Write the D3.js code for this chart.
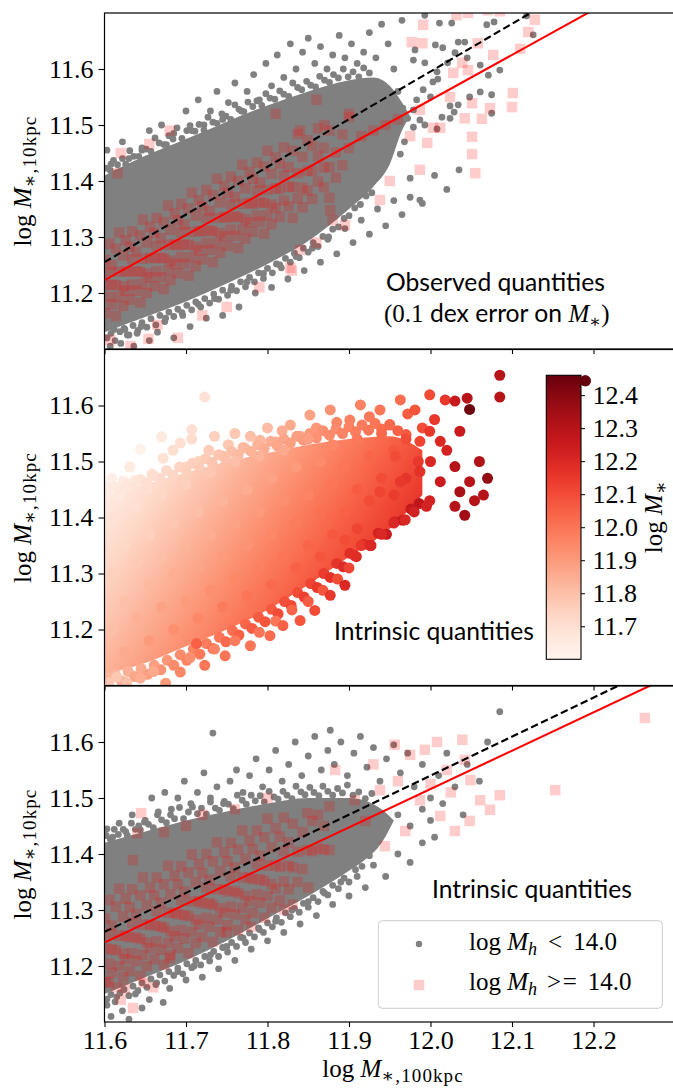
<!DOCTYPE html>
<html><head><meta charset="utf-8">
<script src="https://cdn.jsdelivr.net/npm/d3@7"></script>
<style>body{margin:0;background:#fff}svg{display:block}</style>
</head><body>
<script>
// ---------------- DATA ----------------
const xTicks=[11.6,11.7,11.8,11.9,12.0,12.1,12.2];
const yTicks=[11.2,11.3,11.4,11.5,11.6];
const cbTicks=[11.7,11.8,11.9,12.0,12.1,12.2,12.3,12.4];
const xDomain=[11.6,12.3], yDomain=[11.1,11.7], cbDomain=[11.6,12.46];
const fitX=[11.6,12.3];
const topFitRed=[11.223,11.786], topFitBlack=[11.255,11.851];
const botFitRed=[11.242,11.7215], botFitBlack=[11.261,11.749];
const panelTexts=[["Observed quantities"," dex error on "],["Intrinsic quantities"],["Intrinsic quantities"]];

// dense cores (solid region of overlapping markers)
const topCoreX=[11.6,11.65,11.7,11.75,11.8,11.85,11.9,11.93,11.95,11.965,11.975];
const topCoreHi=[11.41,11.445,11.475,11.506,11.535,11.56,11.58,11.585,11.57,11.54,11.515];
const topCoreLo=[11.13,11.157,11.185,11.217,11.252,11.293,11.35,11.39,11.43,11.49,11.515];
const midCoreX=[11.6,11.65,11.7,11.75,11.8,11.85,11.9,11.95,11.99];
const midCoreHi=[11.44,11.46,11.48,11.5,11.515,11.53,11.54,11.545,11.52];
const midCoreLo=[11.12,11.14,11.17,11.2,11.235,11.28,11.33,11.38,11.44];
const midCoreGradFrom=[11.6,11.5,11.61], midCoreGradTo=[11.918,11.189,12.21];
const botCoreX=[11.6,11.65,11.7,11.75,11.8,11.85,11.9,11.92,11.94,11.955];
const botCoreHi=[11.42,11.44,11.46,11.476,11.49,11.5,11.5,11.495,11.48,11.46];
const botCoreLo=[11.15,11.18,11.21,11.245,11.285,11.325,11.37,11.39,11.42,11.46];

const topDots=[[11.603,11.455],[11.608,11.43],[11.615,11.415],[11.622,11.47],[11.63,11.44],[11.638,11.425],[11.646,11.455],[11.655,11.49],[11.662,11.44],[11.67,11.5],[11.676,11.465],[11.685,11.485],[11.692,11.45],[11.7,11.525],[11.707,11.49],[11.715,11.545],[11.722,11.5],[11.73,11.525],[11.738,11.56],[11.745,11.51],[11.752,11.54],[11.76,11.575],[11.768,11.525],[11.775,11.56],[11.783,11.59],[11.79,11.545],[11.798,11.61],[11.805,11.57],[11.812,11.625],[11.82,11.585],[11.828,11.645],[11.835,11.6],[11.843,11.63],[11.85,11.655],[11.858,11.61],[11.865,11.64],[11.873,11.6],[11.88,11.625],[11.888,11.66],[11.895,11.62],[11.903,11.645],[11.91,11.61],[11.918,11.63],[11.925,11.665],[11.933,11.62],[11.94,11.68],[11.948,11.645],[11.955,11.6],
[11.965,11.687],[11.993,11.696],[12.011,11.682],[12.026,11.682],[12.069,11.679],[12.078,11.684],[12.118,11.695],[12.126,11.661],[12.034,11.648],[12.042,11.648],[12.061,11.607],[12.071,11.589],[12.085,11.598],[12.075,11.554],[12.061,11.559],[12.048,11.55],[12.034,11.536],[12.024,11.534],[12.014,11.514],[12.024,11.512],[12.029,11.523],[12.075,11.521],[12.006,11.643],[12.015,11.638],[12.045,11.62],[12.03,11.629],[12.021,11.611],[12.008,11.595],[12.003,11.577],[12.009,11.582],[11.993,11.611],[11.981,11.634],[11.979,11.616],[11.991,11.563],[12.0,11.55],[11.983,11.545],[11.979,11.527],[11.987,11.509],[11.972,11.512],[11.979,11.496],[11.993,11.5],[12.008,11.493],[11.963,11.448],[11.975,11.405],[11.975,11.371],[11.987,11.366],[11.968,11.47],[11.96,11.56],[11.966,11.53],
[11.603,11.12],[11.607,11.105],[11.612,11.135],[11.62,11.11],[11.628,11.125],[11.636,11.105],[11.645,11.14],[11.655,11.115],[11.665,11.13],[11.675,11.155],[11.685,11.12],[11.695,11.165],[11.705,11.14],[11.715,11.18],[11.725,11.155],[11.735,11.19],[11.745,11.16],[11.755,11.205],[11.765,11.175],[11.775,11.22],[11.785,11.2],[11.795,11.235],[11.805,11.21],[11.815,11.25],[11.825,11.225],[11.835,11.265],[11.845,11.24],[11.855,11.28],[11.865,11.255],[11.875,11.3],[11.885,11.27],[11.895,11.315],[11.905,11.29],[11.915,11.33],[11.925,11.305],[11.935,11.35],[11.945,11.32],[11.955,11.365],[11.965,11.34],[11.99,11.36],[12.005,11.41],[12.02,11.385],[12.035,11.42],[11.61,11.145],[11.625,11.135],[11.64,11.128]];
const topEdgeDots=[[11.602,11.423],[11.607,11.419],[11.611,11.437],[11.616,11.429],[11.622,11.44],[11.626,11.43],[11.631,11.454],[11.636,11.444],[11.642,11.444],[11.646,11.459],[11.651,11.457],[11.657,11.453],[11.662,11.477],[11.667,11.468],[11.673,11.465],[11.679,11.481],[11.684,11.475],[11.689,11.495],[11.695,11.476],[11.701,11.49],[11.705,11.499],[11.711,11.489],[11.716,11.501],[11.722,11.491],[11.727,11.514],[11.733,11.505],[11.738,11.503],[11.744,11.52],[11.749,11.516],[11.755,11.51],[11.76,11.536],[11.765,11.528],[11.771,11.524],[11.776,11.541],[11.782,11.533],[11.787,11.543],[11.793,11.535],[11.798,11.556],[11.803,11.548],[11.809,11.546],[11.815,11.561],[11.82,11.555],[11.826,11.551],[11.831,11.575],[11.837,11.567],[11.842,11.563],[11.848,11.578],[11.853,11.571],[11.859,11.568],[11.864,11.587],[11.87,11.58],[11.876,11.576],[11.881,11.59],[11.887,11.584],[11.893,11.6],[11.899,11.586],[11.905,11.595],[11.912,11.586],[11.918,11.602],[11.925,11.593],
[11.603,11.12],[11.608,11.128],[11.613,11.115],[11.619,11.131],[11.624,11.137],[11.63,11.125],[11.635,11.142],[11.641,11.133],[11.646,11.147],[11.652,11.139],[11.657,11.154],[11.663,11.143],[11.668,11.16],[11.674,11.149],[11.679,11.166],[11.685,11.158],[11.69,11.171],[11.696,11.16],[11.701,11.178],[11.707,11.17],[11.712,11.184],[11.718,11.175],[11.723,11.19],[11.729,11.182],[11.734,11.198],[11.74,11.189],[11.745,11.205],[11.751,11.196],[11.756,11.212],[11.762,11.204],[11.767,11.22],[11.773,11.211],[11.778,11.228],[11.784,11.22],[11.789,11.236],[11.795,11.226],[11.8,11.244],[11.806,11.236],[11.811,11.252],[11.817,11.245],[11.822,11.262],[11.828,11.255],[11.833,11.271],[11.839,11.263],[11.844,11.28],[11.85,11.273],[11.856,11.29],[11.862,11.283],[11.868,11.301],[11.874,11.296],[11.88,11.314],[11.887,11.318],[11.894,11.333],[11.9,11.338],[11.907,11.352],[11.914,11.358],[11.921,11.373],[11.928,11.379]];

// red squares: dense band rows [x, y, y, y] and scattered ones
const topBand=[[11.601,11.164,11.214,11.259],[11.606,11.193,11.238,11.288],[11.609,11.18,11.25,11.215],[11.614,11.214,11.279,11.159],[11.618,11.238,11.193,11.308],[11.623,11.267,11.212,11.177],[11.626,11.239,11.294,11.204],[11.631,11.188,11.238,11.283],[11.634,11.215,11.26,11.31],[11.639,11.204,11.274,11.239],[11.644,11.238,11.303,11.183],[11.647,11.261,11.216,11.331],[11.652,11.29,11.235,11.2],[11.656,11.263,11.318,11.228],[11.661,11.212,11.262,11.307],[11.664,11.239,11.284,11.334],[11.669,11.228,11.298,11.263],[11.673,11.262,11.327,11.207],[11.678,11.286,11.241,11.356],[11.681,11.313,11.258,11.223],[11.686,11.287,11.342,11.252],[11.69,11.235,11.285,11.33],[11.694,11.264,11.309,11.359],[11.698,11.252,11.322,11.287],[11.703,11.286,11.351,11.231],[11.707,11.309,11.264,11.379],[11.712,11.338,11.283,11.248],[11.716,11.311,11.366,11.276],[11.72,11.26,11.31,11.355],[11.725,11.289,11.334,11.384],[11.729,11.277,11.347,11.312],[11.733,11.31,11.375,11.255],[11.738,11.334,11.289,11.404],[11.742,11.362,11.307,11.272],[11.747,11.336,11.391,11.301],[11.751,11.284,11.334,11.379],[11.755,11.313,11.358,11.408],[11.76,11.302,11.372,11.337],[11.764,11.335,11.4,11.28],[11.769,11.359,11.314,11.429],[11.773,11.387,11.332,11.297],[11.778,11.361,11.416,11.326],[11.782,11.309,11.359,11.404],[11.787,11.338,11.383,11.433],[11.791,11.327,11.397,11.362],[11.796,11.361,11.426,11.306],[11.8,11.384,11.339,11.454],[11.805,11.413,11.358,11.323],[11.81,11.387,11.442,11.352],[11.815,11.336,11.386,11.431],[11.82,11.365,11.41,11.46],[11.826,11.355,11.425,11.39],[11.831,11.389,11.454,11.334],[11.837,11.414,11.369,11.484],[11.843,11.443,11.388,11.353],[11.849,11.418,11.473,11.383],[11.855,11.368,11.418,11.463],[11.862,11.399,11.444,11.494],[11.869,11.389,11.459,11.424],[11.876,11.425,11.49,11.37],[11.884,11.451,11.406],[11.892,11.483,11.428],[11.9,11.459,11.514]];
const topSquares=[[11.607,11.116],[11.632,11.105],[11.654,11.118],[11.665,11.143],[11.69,11.12],[11.72,11.16],[11.75,11.175],[11.79,11.21],[11.83,11.24],[11.86,11.29],[11.88,11.33],[11.616,11.414],[11.62,11.45],[11.655,11.466],[11.68,11.49],[11.81,11.52],[11.86,11.545],[11.87,11.5],[11.84,11.49],[11.9,11.52],[11.84,11.277],[11.828,11.245],[11.877,11.348],[11.895,11.321],[11.938,11.366],[11.95,11.4],[11.915,11.48],[11.93,11.49],[11.945,11.5],[11.96,11.51],
[11.991,11.679],[12.032,11.696],[12.046,11.7],[12.128,11.688],[12.12,11.666],[12.11,11.636],[12.077,11.625],[12.058,11.646],[12.028,11.593],[12.039,11.611],[12.046,11.598],[12.024,11.55],[12.051,11.539],[12.073,11.53],[12.1,11.532],[12.101,11.557],[12.042,11.512],[12.063,11.511],[12.051,11.479],[12.051,11.448],[12.055,11.414],[11.987,11.42],[11.996,11.468],[11.975,11.48],[12.003,11.495],[12.012,11.495],[11.987,11.527],[11.977,11.648],[11.99,11.646],[12.07,11.705],[12.085,11.703]];

// middle panel: [log M*,100kpc, log M*,10kpc, log M*]
const midPts=[[11.603,11.455,11.64],[11.609,11.47,11.63],[11.618,11.44,11.66],[11.623,11.465,11.65],[11.631,11.49,11.65],[11.637,11.466,11.66],[11.644,11.522,11.62],[11.652,11.45,11.7],[11.658,11.478,11.68],[11.67,11.544,11.66],[11.672,11.506,11.69],[11.684,11.52,11.7],[11.693,11.533,11.7],[11.7,11.49,11.74],[11.707,11.557,11.7],[11.707,11.54,11.71],[11.715,11.5,11.75],[11.723,11.615,11.69],[11.728,11.52,11.76],[11.735,11.545,11.75],[11.745,11.51,11.79],[11.752,11.53,11.78],[11.76,11.55,11.78],[11.77,11.525,11.81],[11.779,11.545,11.8],[11.791,11.538,11.82],[11.8,11.56,11.81],[11.81,11.535,11.85],[11.818,11.555,11.85],[11.828,11.565,11.86],[11.84,11.545,11.89],[11.852,11.583,11.88],[11.86,11.56,11.91],[11.877,11.592,11.92],[11.885,11.57,11.95],[11.901,11.574,11.97],[11.914,11.601,11.96],[11.925,11.58,11.99],[11.938,11.592,12.0],[11.95,11.565,12.04],[11.963,11.61,12.02],[11.972,11.585,12.06],[11.981,11.592,12.08],[11.999,11.619,12.1],[12.018,11.61,12.15],[11.99,11.56,12.1],[12.005,11.575,12.15],
[11.604,11.45,11.645],[11.612,11.455,11.653],[11.62,11.448,11.667],[11.628,11.46,11.67],[11.636,11.455,11.684],[11.644,11.468,11.686],[11.652,11.462,11.7],[11.66,11.475,11.703],[11.668,11.47,11.716],[11.676,11.484,11.719],[11.684,11.476,11.733],[11.692,11.49,11.736],[11.7,11.485,11.749],[11.708,11.497,11.752],[11.716,11.49,11.767],[11.724,11.505,11.768],[11.732,11.498,11.783],[11.74,11.512,11.785],[11.748,11.505,11.799],[11.756,11.518,11.802],[11.764,11.512,11.816],[11.772,11.524,11.819],[11.78,11.518,11.833],[11.788,11.53,11.836],[11.796,11.523,11.851],[11.804,11.536,11.854],[11.812,11.528,11.869],[11.82,11.54,11.872],[11.828,11.533,11.886],[11.836,11.545,11.89],[11.844,11.538,11.904],[11.852,11.55,11.908],[11.86,11.542,11.923],[11.868,11.555,11.925],[11.876,11.547,11.941],[11.884,11.558,11.944],[11.892,11.55,11.96],[11.9,11.562,11.963],[11.908,11.553,11.978],[11.916,11.565,11.98],[11.924,11.556,11.996],[11.932,11.568,11.998],[11.94,11.558,12.017],[11.95,11.566,12.026],[11.96,11.555,12.05],[11.97,11.548,12.062],
[11.61,11.4,11.69],[11.61,11.3,11.75],[11.61,11.2,11.8],[11.625,11.35,11.73],[11.625,11.25,11.8],[11.625,11.16,11.86],[11.64,11.42,11.7],[11.64,11.32,11.77],[11.64,11.22,11.84],[11.655,11.37,11.75],[11.655,11.28,11.82],[11.655,11.18,11.9],[11.67,11.44,11.73],[11.67,11.33,11.8],[11.67,11.24,11.88],[11.685,11.39,11.78],[11.685,11.3,11.85],[11.685,11.2,11.93],[11.7,11.46,11.75],[11.7,11.35,11.83],[11.7,11.25,11.9],[11.715,11.41,11.8],[11.715,11.31,11.87],[11.715,11.22,11.95],[11.73,11.48,11.78],[11.73,11.37,11.85],[11.73,11.27,11.93],[11.745,11.43,11.83],[11.745,11.33,11.9],[11.745,11.24,11.98],[11.76,11.5,11.8],[11.76,11.39,11.88],[11.76,11.29,11.95],[11.775,11.45,11.85],[11.775,11.35,11.92],[11.775,11.26,12.0],[11.79,11.51,11.83],[11.79,11.41,11.9],[11.79,11.31,11.97],[11.805,11.47,11.88],[11.805,11.37,11.95],[11.805,11.28,12.03],[11.82,11.52,11.86],[11.82,11.43,11.93],[11.82,11.33,12.0],[11.835,11.49,11.9],[11.835,11.39,11.98],[11.835,11.31,12.05],[11.85,11.54,11.89],[11.85,11.44,11.96],[11.85,11.35,12.04],[11.865,11.5,11.94],[11.865,11.41,12.01],[11.865,11.33,12.08],[11.88,11.53,11.95],[11.88,11.46,12.0],[11.88,11.37,12.07],[11.895,11.49,12.0],[11.895,11.41,12.05],[11.895,11.36,12.1],[11.91,11.54,11.99],[11.91,11.45,12.06],[11.91,11.38,12.12],[11.925,11.51,12.04],[11.925,11.43,12.1],[11.94,11.55,12.03],[11.94,11.47,12.1],[11.955,11.52,12.08],[11.955,11.44,12.14],[11.97,11.54,12.1],[11.97,11.47,12.16],[11.985,11.5,12.15],
[11.605,11.112,11.83],[11.613,11.12,11.83],[11.621,11.108,11.85],[11.629,11.125,11.84],[11.637,11.116,11.87],[11.645,11.13,11.86],[11.653,11.12,11.89],[11.661,11.136,11.89],[11.669,11.128,11.92],[11.677,11.145,11.91],[11.685,11.136,11.94],[11.693,11.155,11.94],[11.701,11.145,11.96],[11.709,11.165,11.96],[11.717,11.156,11.99],[11.725,11.175,11.98],[11.733,11.166,12.01],[11.741,11.186,12.0],[11.749,11.178,12.03],[11.757,11.198,12.02],[11.765,11.19,12.05],[11.773,11.21,12.04],[11.781,11.202,12.06],[11.789,11.222,12.06],[11.797,11.214,12.08],[11.805,11.236,12.07],[11.813,11.228,12.1],[11.821,11.25,12.09],[11.829,11.243,12.11],[11.837,11.266,12.1],[11.845,11.258,12.13],[11.853,11.282,12.12],[11.861,11.275,12.15],[11.869,11.3,12.14],[11.877,11.293,12.17],[11.885,11.318,12.16],[11.893,11.312,12.19],[11.901,11.336,12.18],[11.909,11.33,12.2],[11.918,11.352,12.2],[11.927,11.35,12.22],[11.936,11.372,12.22],[11.946,11.37,12.25],[11.956,11.392,12.24],[11.966,11.395,12.26],[11.976,11.415,12.26],[11.986,11.425,12.28],
[11.605,11.105,11.78],[11.615,11.115,11.78],[11.627,11.105,11.8],[11.644,11.113,11.85],[11.66,11.125,11.86],[11.675,11.104,11.9],[11.693,11.124,11.95],[11.705,11.15,11.93],[11.713,11.175,12.05],[11.723,11.136,12.0],[11.735,11.165,11.96],[11.748,11.153,12.0],[11.76,11.18,11.98],[11.779,11.171,12.0],[11.79,11.195,12.0],[11.803,11.189,12.02],[11.81,11.215,12.0],[11.819,11.207,12.05],[11.83,11.235,12.04],[11.84,11.216,12.08],[11.85,11.25,12.06],[11.858,11.234,12.1],[11.868,11.27,12.08],[11.877,11.261,12.15],[11.886,11.29,12.1],[11.895,11.279,12.2],[11.9,11.31,12.12],[11.907,11.332,12.18],[11.915,11.35,12.15],[11.926,11.35,12.2],[11.94,11.37,12.2],[11.955,11.39,12.2],[11.969,11.396,12.2],[11.98,11.41,12.22],[11.995,11.42,12.22],
[11.999,11.554,12.15],[11.987,11.536,12.12],[12.012,11.536,12.2],[12.036,11.554,12.25],[12.03,11.608,12.25],[12.03,11.491,12.3],[12.048,11.464,12.3],[12.036,11.446,12.33],[12.054,11.43,12.3],[12.012,11.464,12.25],[12.042,11.404,12.35],[12.03,11.42,12.3],[11.999,11.43,12.22],[11.987,11.482,12.17],[11.957,11.509,12.1],[11.963,11.464,12.15],[11.938,11.446,12.12],[12.02,11.52,12.22],[12.06,11.5,12.32],[12.07,11.47,12.38],[12.065,11.44,12.3],[12.0,11.5,12.2],[12.048,11.593,12.45],[12.045,11.613,12.3],[12.085,11.654,12.3],[12.085,11.615,12.3],[12.19,11.644,12.46]];

const botDots=[[11.603,11.445],[11.61,11.43],[11.618,11.455],[11.626,11.44],[11.634,11.47],[11.642,11.45],[11.65,11.46],[11.658,11.5],[11.666,11.475],[11.674,11.51],[11.682,11.48],[11.69,11.5],[11.698,11.53],[11.706,11.49],[11.714,11.51],[11.722,11.545],[11.733,11.616],[11.73,11.5],[11.738,11.52],[11.746,11.49],[11.754,11.53],[11.762,11.55],[11.77,11.51],[11.778,11.54],[11.786,11.57],[11.794,11.52],[11.802,11.55],[11.81,11.585],[11.818,11.53],[11.826,11.56],[11.834,11.6],[11.842,11.54],[11.85,11.575],[11.858,11.61],[11.866,11.55],[11.874,11.585],[11.877,11.621],[11.882,11.56],[11.89,11.6],[11.898,11.54],[11.906,11.58],[11.914,11.61],[11.922,11.555],[11.93,11.59],[11.938,11.53],[11.946,11.57],[11.955,11.595],[11.963,11.545],[11.972,11.58],[11.98,11.52],[11.99,11.56],[12.0,11.5],[12.01,11.54],[12.02,11.58],[12.03,11.52],[12.045,11.56],[12.06,11.53],[12.085,11.654],[12.07,11.6],[11.96,11.47],[11.975,11.45],[11.99,11.48],[12.0,11.46],[12.015,11.49],[12.04,11.47],
[11.603,11.13],[11.608,11.11],[11.615,11.145],[11.622,11.12],[11.63,11.105],[11.638,11.15],[11.646,11.125],[11.655,11.14],[11.664,11.17],[11.672,11.135],[11.68,11.16],[11.69,11.19],[11.7,11.175],[11.71,11.2],[11.72,11.18],[11.73,11.22],[11.74,11.195],[11.75,11.235],[11.76,11.21],[11.77,11.25],[11.78,11.23],[11.79,11.265],[11.8,11.245],[11.81,11.28],[11.82,11.26],[11.83,11.3],[11.84,11.275],[11.85,11.315],[11.86,11.29],[11.87,11.33],[11.88,11.31],[11.89,11.35],[11.9,11.325],[11.91,11.36],[11.92,11.34],[11.93,11.38],[11.945,11.36],[11.96,11.4],[11.975,11.385],[11.99,11.42],[12.005,11.43]];
const botEdgeDots=[[11.602,11.433],[11.607,11.427],[11.612,11.444],[11.617,11.435],[11.623,11.444],[11.628,11.433],[11.633,11.455],[11.638,11.444],[11.644,11.443],[11.649,11.457],[11.654,11.453],[11.66,11.447],[11.665,11.47],[11.67,11.461],[11.676,11.456],[11.681,11.47],[11.686,11.463],[11.692,11.483],[11.697,11.463],[11.703,11.475],[11.708,11.484],[11.714,11.472],[11.719,11.482],[11.725,11.471],[11.73,11.493],[11.736,11.482],[11.741,11.478],[11.747,11.494],[11.752,11.489],[11.758,11.481],[11.763,11.505],[11.769,11.496],[11.774,11.489],[11.78,11.505],[11.785,11.495],[11.791,11.504],[11.796,11.493],[11.802,11.512],[11.808,11.502],[11.813,11.498],[11.819,11.512],[11.824,11.505],[11.83,11.499],[11.835,11.521],[11.841,11.511],[11.846,11.506],[11.852,11.519],[11.857,11.51],[11.863,11.504],[11.868,11.521],[11.874,11.512],[11.88,11.505],[11.886,11.517],[11.892,11.509],[11.898,11.523],[11.905,11.505],[11.912,11.511],[11.92,11.499],[11.928,11.508],
[11.603,11.141],[11.608,11.149],[11.613,11.136],[11.619,11.152],[11.624,11.158],[11.63,11.147],[11.635,11.164],[11.641,11.156],[11.646,11.17],[11.652,11.162],[11.657,11.177],[11.663,11.167],[11.668,11.184],[11.674,11.173],[11.679,11.19],[11.685,11.183],[11.69,11.196],[11.696,11.186],[11.701,11.204],[11.707,11.197],[11.712,11.21],[11.718,11.202],[11.723,11.217],[11.729,11.209],[11.734,11.226],[11.74,11.217],[11.745,11.233],[11.751,11.225],[11.756,11.242],[11.762,11.235],[11.767,11.251],[11.773,11.242],[11.778,11.259],[11.784,11.252],[11.789,11.268],[11.795,11.26],[11.8,11.277],[11.806,11.27],[11.811,11.286],[11.817,11.278],[11.822,11.295],[11.828,11.288],[11.833,11.303],[11.839,11.296],[11.844,11.312],[11.85,11.305],[11.856,11.322],[11.862,11.315],[11.868,11.333],[11.874,11.327],[11.88,11.344],[11.887,11.338],[11.894,11.357],[11.9,11.35],[11.908,11.372],[11.916,11.378],[11.925,11.397]];

const botBand=[[11.601,11.171,11.231,11.285],[11.606,11.204,11.258,11.318],[11.609,11.188,11.272,11.23],[11.614,11.228,11.306,11.162],[11.618,11.254,11.2,11.338],[11.623,11.288,11.222,11.18],[11.626,11.254,11.32,11.212],[11.631,11.191,11.251,11.305],[11.634,11.223,11.277,11.337],[11.639,11.209,11.293,11.251],[11.644,11.248,11.326,11.182],[11.647,11.274,11.22,11.358],[11.652,11.308,11.242,11.2],[11.656,11.274,11.34,11.232],[11.661,11.212,11.272,11.326],[11.664,11.244,11.298,11.358],[11.669,11.229,11.313,11.271],[11.673,11.268,11.346,11.202],[11.678,11.295,11.241,11.379],[11.681,11.328,11.262,11.22],[11.686,11.295,11.361,11.253],[11.69,11.232,11.292,11.346],[11.694,11.264,11.318,11.378],[11.698,11.249,11.333,11.291],[11.703,11.289,11.367,11.223],[11.707,11.315,11.261,11.399],[11.712,11.349,11.283,11.241],[11.716,11.316,11.382,11.274],[11.72,11.252,11.312,11.366],[11.725,11.286,11.34,11.4],[11.729,11.27,11.354,11.312],[11.733,11.309,11.387,11.243],[11.738,11.337,11.283,11.421],[11.742,11.369,11.303,11.261],[11.747,11.337,11.403,11.295],[11.751,11.273,11.333,11.387],[11.755,11.306,11.36,11.42],[11.76,11.292,11.376,11.334],[11.764,11.33,11.408,11.264],[11.769,11.358,11.304,11.442],[11.773,11.391,11.325,11.283],[11.778,11.358,11.424,11.316],[11.782,11.295,11.355,11.409],[11.787,11.328,11.382,11.442],[11.791,11.313,11.397,11.355],[11.796,11.352,11.43,11.286],[11.8,11.379,11.325,11.463],[11.805,11.412,11.346,11.304],[11.81,11.38,11.446,11.338],[11.815,11.317,11.377,11.431],[11.82,11.351,11.405,11.465],[11.826,11.337,11.421,11.379],[11.831,11.376,11.454,11.31],[11.837,11.404,11.35],[11.843,11.439,11.373],[11.849,11.407,11.473],[11.855,11.405,11.459],[11.862,11.41,11.47],[11.869,11.45,11.408],[11.876,11.407,11.485]];
const botSquares=[[11.605,11.171],[11.62,11.14],[11.635,11.125],[11.625,11.16],[11.648,11.17],[11.66,11.162],[11.68,11.214],[11.645,11.473],[11.64,11.437],[11.635,11.389],[11.673,11.439],[11.7,11.45],[11.72,11.47],[11.76,11.48],[11.8,11.5],[11.82,11.3],[11.85,11.34],[11.75,11.26],[11.78,11.27],
[11.883,11.55],[11.907,11.496],[11.92,11.459],[11.938,11.514],[11.944,11.414],[11.956,11.595],[11.969,11.441],[11.975,11.577],[11.987,11.496],[11.993,11.586],[12.008,11.6],[12.012,11.468],[12.02,11.55],[12.03,11.441],[12.039,11.604],[12.042,11.568],[12.048,11.459],[12.049,11.532],[12.061,11.496],[12.073,11.479],[12.085,11.505],[12.153,11.514],[12.263,11.643],[11.93,11.56],[11.96,11.53],[12.0,11.525],[12.025,11.51]];

// ---------------- LAYOUT ----------------
const W=673,H=1091, X0=104.5, X1=675, PH=336, PT=[13,349.5,686];
const SERIF="'Liberation Serif','DejaVu Serif',serif", SANS="Lato,'DejaVu Sans',sans-serif";
const GRAY="#808080", FS=25, TFS=26;
const svg=d3.select("body").append("svg").attr("width",W).attr("height",H);
const defs=svg.append("defs");
const x=d3.scaleLinear().domain(xDomain).range([X0,X1]);
const cScale=d3.scaleSequential(d3.interpolateReds).domain(cbDomain);
const bandPairs=rows=>rows.flatMap(r=>r.slice(1).map(v=>[r[0],v]));

function yFor(i){return d3.scaleLinear().domain(yDomain).range([PT[i]+PH,PT[i]]);}
function core(g,y,cx,lo,hi,fill){
  const a=d3.area().x(d=>x(d[0])).y0(d=>y(d[1])).y1(d=>y(d[2])).curve(d3.curveMonotoneX);
  g.append("path").datum(d3.zip(cx,lo,hi)).attr("d",a).attr("fill",fill);
}
function dots(g,y,data){
  g.selectAll(null).data(data).join("circle").attr("cx",d=>x(d[0])).attr("cy",d=>y(d[1])).attr("r",3.4).attr("fill",GRAY);
}
function squares(g,y,data){
  const s=10.5;
  g.selectAll(null).data(data).join("rect").attr("x",d=>x(d[0])-s/2).attr("y",d=>y(d[1])-s/2)
   .attr("width",s).attr("height",s).attr("fill","#ff0000").attr("fill-opacity",0.2);
}
function fitLine(g,y,ys,color,dash){
  const l=d3.line().x(d=>x(d[0])).y(d=>y(d[1]));
  const p=g.append("path").datum(d3.zip(fitX,ys)).attr("d",l).attr("fill","none").attr("stroke",color).attr("stroke-width",2.1);
  if(dash)p.attr("stroke-dasharray","7.5,3.5");
}
function serifText(sel,fs){fs=fs||FS;return sel.attr("font-family",SERIF).attr("font-size",fs).style("font-family",SERIF).style("font-size",fs+"px").attr("fill","#000");}
function massLabel(t,sub){
  t.append("tspan").text("log ");
  t.append("tspan").style("font-style","italic").text("M");
  t.append("tspan").attr("dy",5).style("font-size","19px").style("letter-spacing","1.1px").text(sub);
}
function axes(i){
  const y=yFor(i);
  const ga=svg.append("g").attr("transform",`translate(${X0},0)`)
    .call(d3.axisLeft(y).tickValues(yTicks).tickFormat(d3.format(".1f")).tickSize(6).tickPadding(5));
  ga.select(".domain").remove();
  serifText(ga,TFS); serifText(ga.selectAll("text"),TFS);
  ga.selectAll("line").attr("stroke","#000").attr("stroke-width",1.1);
  const gb=svg.append("g").attr("transform",`translate(0,${PT[i]+PH})`)
    .call(d3.axisBottom(x).tickValues(xTicks).tickFormat(i==2?d3.format(".1f"):()=>"").tickSize(5).tickPadding(4));
  gb.select(".domain").remove();
  serifText(gb,TFS); serifText(gb.selectAll("text"),TFS);
  gb.selectAll("line").attr("stroke","#000").attr("stroke-width",1.1);
  svg.append("rect").attr("x",X0).attr("y",PT[i]).attr("width",X1-X0).attr("height",PH)
    .attr("fill","none").attr("stroke","#000").attr("stroke-width",1.2);
  const t=serifText(svg.append("text").attr("transform",`translate(31,${PT[i]+PH/2}) rotate(-90)`).attr("text-anchor","middle"));
  massLabel(t,"\u2217,10kpc");
}
function clipped(i){
  defs.append("clipPath").attr("id","cp"+i).append("rect").attr("x",X0).attr("y",PT[i]).attr("width",X1-X0).attr("height",PH);
  return svg.append("g").attr("clip-path",`url(#cp${i})`);
}

// ---- top panel ----
{
  const y=yFor(0), g=clipped(0);
  core(g,y,topCoreX,topCoreLo,topCoreHi,GRAY);
  dots(g,y,topDots); dots(g,y,topEdgeDots);
  squares(g,y,bandPairs(topBand)); squares(g,y,topSquares);
  fitLine(g,y,topFitBlack,"#000",true);
  fitLine(g,y,topFitRed,"#ff0000",false);
}
// ---- middle panel ----
{
  const y=yFor(1), g=clipped(1);
  const gr=defs.append("linearGradient").attr("id","midgrad").attr("gradientUnits","userSpaceOnUse")
    .attr("x1",x(midCoreGradFrom[0])).attr("y1",y(midCoreGradFrom[1]))
    .attr("x2",x(midCoreGradTo[0])).attr("y2",y(midCoreGradTo[1]));
  d3.range(11).forEach(k=>{const t=k/10;gr.append("stop").attr("offset",t)
    .attr("stop-color",cScale(midCoreGradFrom[2]+t*(midCoreGradTo[2]-midCoreGradFrom[2])));});
  core(g,y,midCoreX,midCoreLo,midCoreHi,"url(#midgrad)");
  g.selectAll(null).data(midPts).join("circle").attr("cx",d=>x(d[0])).attr("cy",d=>y(d[1])).attr("r",5.5)
    .attr("fill",d=>cScale(d[2]));
}
// ---- bottom panel ----
{
  const y=yFor(2), g=clipped(2);
  core(g,y,botCoreX,botCoreLo,botCoreHi,GRAY);
  dots(g,y,botDots); dots(g,y,botEdgeDots);
  squares(g,y,bandPairs(botBand)); squares(g,y,botSquares);
  fitLine(g,y,botFitBlack,"#000",true);
  fitLine(g,y,botFitRed,"#ff0000",false);
}
[0,1,2].forEach(axes);

// x label
massLabel(serifText(svg.append("text").attr("x",393).attr("y",1077).attr("text-anchor","middle")),"\u2217,100kpc");

// sans annotations, size fitted to the reference width of "Intrinsic quantities" (~200px)
const probe=svg.append("text").style("font-family",SANS).style("font-size","20px").text(panelTexts[1][0]);
const SANS_FS=20*200/probe.node().getComputedTextLength();
probe.remove();
function sansText(xp,yp,str){
  return svg.append("text").attr("x",xp).attr("y",yp).style("font-family",SANS).style("font-size",SANS_FS+"px").attr("fill","#000").text(str);
}
sansText(386,291,panelTexts[0][0]);
{
  const t=svg.append("text").attr("x",384).attr("y",322).attr("fill","#000").style("font-size",SANS_FS+"px");
  t.append("tspan").style("font-family",SERIF).style("font-size","25px").text("(0.1");
  t.append("tspan").style("font-family",SANS).style("white-space","pre").text(panelTexts[0][1]);
  t.append("tspan").style("font-family",SERIF).style("font-size","25px").style("font-style","italic").text("M");
  t.append("tspan").attr("dy",5).style("font-family",SERIF).style("font-size","17.5px").text("\u2217");
  t.append("tspan").attr("dy",-5).style("font-family",SERIF).style("font-size","25px").text(")");
}
sansText(334,640,panelTexts[1][0]);
sansText(432,898,panelTexts[2][0]);

// colorbar
{
  const cx0=546.3, cw=34.7, cy0=375.3, ch=284;
  const cy=d3.scaleLinear().domain(cbDomain).range([cy0+ch,cy0]);
  const lg=defs.append("linearGradient").attr("id","cbgrad").attr("x1",0).attr("y1",1).attr("x2",0).attr("y2",0);
  d3.range(41).forEach(k=>{const t=k/40;lg.append("stop").attr("offset",t).attr("stop-color",d3.interpolateReds(t));});
  svg.append("rect").attr("x",cx0).attr("y",cy0).attr("width",cw).attr("height",ch).attr("fill","url(#cbgrad)")
    .attr("stroke","#000").attr("stroke-width",1.1);
  const ga=svg.append("g").attr("transform",`translate(${cx0+cw},0)`)
    .call(d3.axisRight(cy).tickValues(cbTicks).tickFormat(d3.format(".1f")).tickSize(4).tickPadding(7.5));
  ga.select(".domain").remove();
  serifText(ga,TFS); serifText(ga.selectAll("text"),TFS);
  ga.selectAll("line").attr("stroke","#000");
  const t=serifText(svg.append("text").attr("transform",`translate(662,${cy0+ch/2}) rotate(-90)`).attr("text-anchor","middle"));
  t.append("tspan").text("log ");
  t.append("tspan").style("font-style","italic").text("M");
  t.append("tspan").attr("dy",5).style("font-size","19px").text("\u2217");
  const y=yFor(1), last=midPts[midPts.length-1];
  svg.append("circle").attr("cx",x(last[0])).attr("cy",y(last[1])).attr("r",5.5).attr("fill",cScale(last[2]));
}

// legend
{
  const lx=378.3, ly=920.7, lw=284, lh=87.6;
  svg.append("rect").attr("x",lx).attr("y",ly).attr("width",lw).attr("height",lh).attr("rx",4)
    .attr("fill","#fff").attr("fill-opacity",0.8).attr("stroke","#cccccc").attr("stroke-width",1);
  svg.append("circle").attr("cx",419).attr("cy",944).attr("r",3.2).attr("fill",GRAY);
  svg.append("rect").attr("x",419-5.25).attr("y",985-5.25).attr("width",10.5).attr("height",10.5).attr("fill","#ff0000").attr("fill-opacity",0.2);
  const rels=[[["<",11]],[[">",10],["=",1.5]]];
  [950,990].forEach((yy,k)=>{
    const t=serifText(svg.append("text").attr("x",469).attr("y",yy));
    t.append("tspan").text("log ");
    t.append("tspan").style("font-style","italic").text("M");
    t.append("tspan").attr("dy",5).style("font-size","18px").style("font-style","italic").text("h");
    rels[k].forEach(([s,dx],j)=>t.append("tspan").attr("dy",j?0:-5).attr("dx",dx).text(s));
    t.append("tspan").attr("dx",11).text("14.0");
  });
}
</script>
</body></html>
